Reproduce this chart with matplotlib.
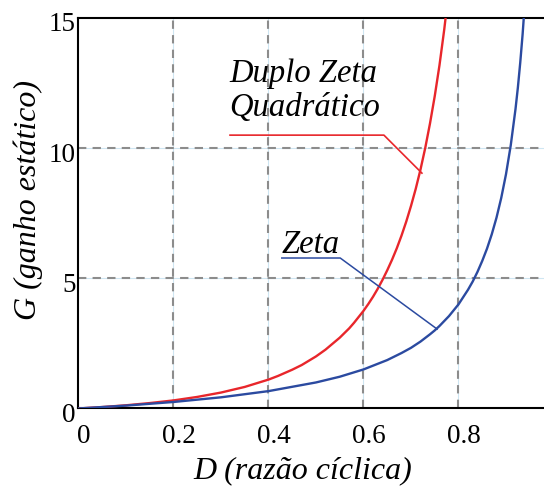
import matplotlib.pyplot as plt
from matplotlib.transforms import ScaledTranslation

# values
d_quad = [0, 0.05, 0.1, 0.15, 0.2, 0.25, 0.3, 0.35, 0.4, 0.42, 0.45, 0.47, 0.5, 0.52,
          0.55, 0.57, 0.58, 0.6, 0.61, 0.62, 0.63, 0.64, 0.65, 0.66, 0.67, 0.68, 0.69,
          0.70, 0.71, 0.72, 0.73, 0.74, 0.75, 0.76, 0.77, 0.78]
g_quad = [0, 0.055, 0.123, 0.208, 0.31, 0.444, 0.612, 0.828, 1.11, 1.25, 1.49, 1.67, 2.0, 2.26,
          2.72, 3.08, 3.29, 3.75, 4.01, 4.29, 4.60, 4.94, 5.31, 5.71, 6.15, 6.64, 7.18,
          7.78, 8.44, 9.18, 10.01, 10.95, 12.0, 13.19, 14.56, 16.12]

d_zeta = [0, 0.1, 0.2, 0.3, 0.4, 0.5, 0.55, 0.6, 0.65, 0.68, 0.7, 0.72, 0.74, 0.75,
          0.76, 0.78, 0.8, 0.82, 0.83, 0.84, 0.85, 0.86, 0.87, 0.88, 0.89, 0.9, 0.91,
          0.92, 0.925, 0.93, 0.935, 0.94]
g_zeta = [0, 0.111, 0.25, 0.429, 0.667, 1.0, 1.22, 1.5, 1.86, 2.13, 2.33, 2.57, 2.85, 3.0,
          3.17, 3.55, 4.0, 4.56, 4.88, 5.25, 5.67, 6.14, 6.69, 7.33, 8.09, 9.0, 10.11,
          11.5, 12.33, 13.29, 14.38, 15.67]

x_ticks = [0, 0.2, 0.4, 0.6, 0.8]
x_labels = ['0', '0.2', '0.4', '0.6', '0.8']
y_ticks = [0, 5, 10, 15]

red = '#e8262b'
blue = '#2b4aa0'

plt.rcParams['font.family'] = ['Liberation Serif', 'DejaVu Serif']

fig = plt.figure(figsize=(5.44, 4.86), dpi=100)
ax = fig.add_axes([0.1443, 0.1595, 0.8557, 0.8035])

# grid: thin light blue line under a grey dashed one
for gx in x_ticks[1:]:
    ax.axvline(gx, color='#cfe6f2', lw=0.8, zorder=1)
    ax.axvline(gx, color='#8c8c8c', lw=1.5, ls=(0, (4, 3)), zorder=1)
for gy in y_ticks[1:3]:
    ax.axhline(gy, color='#cfe6f2', lw=0.8, zorder=1)
    ax.axhline(gy, color='#8c8c8c', lw=1.5, ls=(0, (4, 3)), zorder=1)

ax.plot(d_quad, g_quad, color=red, lw=1.7, zorder=3)
ax.plot(d_zeta, g_zeta, color=blue, lw=1.7, zorder=3)

# leader lines
ax.plot([0.319, 0.643, 0.723], [10.5, 10.5, 9.04], color=red, lw=1.2, zorder=3)
ax.plot([0.428, 0.551, 0.755], [5.78, 5.78, 3.05], color=blue, lw=1.1, zorder=3)

ax.text(0.318, 12.54, 'Duplo Zeta', fontsize=23.5, style='italic', ha='left', va='baseline')
ax.text(0.318, 11.24, 'Quadrático', fontsize=23.5, style='italic', ha='left', va='baseline')
ax.text(0.428, 5.97, 'Zeta', fontsize=23.5, style='italic', ha='left', va='baseline')

ax.set_xlim(0, 0.98)
ax.set_ylim(0, 15)
ax.set_xticks(x_ticks)
ax.set_xticklabels(x_labels)
ax.set_yticks(y_ticks)
ax.tick_params(length=0, labelsize=19.5)
ax.tick_params(axis='x', pad=11)
ax.tick_params(axis='y', pad=2)
yshift = ScaledTranslation(0, -4 / 100, fig.dpi_scale_trans)
for lab in ax.get_yticklabels():
    lab.set_transform(lab.get_transform() + yshift)
xshift = ScaledTranslation(5 / 100, 0, fig.dpi_scale_trans)
for lab in ax.get_xticklabels():
    lab.set_transform(lab.get_transform() + xshift)
ax.spines['right'].set_visible(False)
for s in ['left', 'top', 'bottom']:
    ax.spines[s].set_linewidth(1.5)

ax.set_xlabel('D (razão cíclica)', fontsize=23, style='italic')
ax.xaxis.set_label_coords(0.482, -0.121)
ax.set_ylabel('G (ganho estático)', fontsize=23, style='italic')
ax.yaxis.set_label_coords(-0.076, 0.534)

fig.savefig('out.png', dpi=100)
